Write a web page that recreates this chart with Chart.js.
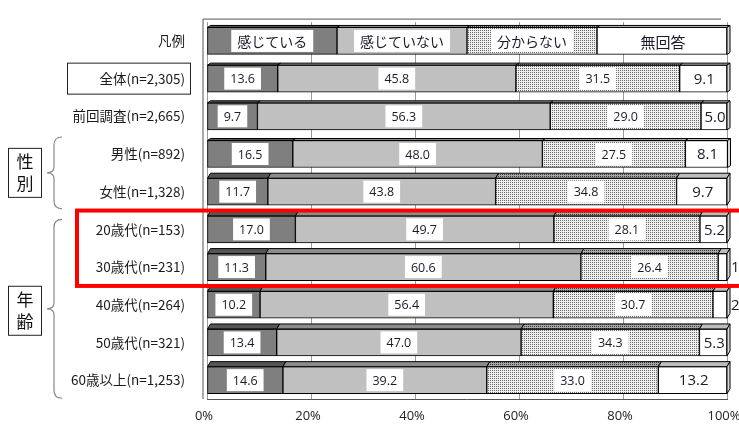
<!DOCTYPE html>
<html>
<head>
<meta charset="utf-8">
<script src="https://cdn.jsdelivr.net/npm/chart.js@4"></script>
<style>
  html, body { margin: 0; padding: 0; background: #fff; }
  #wrap { width: 739px; height: 428px; position: relative; }
</style>
</head>
<body>
<div id="wrap"><canvas id="chart" width="739" height="428"></canvas></div>
<script>
// 데이터
const categories = ['凡例', '全体(n=2,305)', '前回調査(n=2,665)', '男性(n=892)', '女性(n=1,328)',
  '20歳代(n=153)', '30歳代(n=231)', '40歳代(n=264)', '50歳代(n=321)', '60歳以上(n=1,253)'];
const seriesNames = ['感じている', '感じていない', '分からない', '無回答'];
const feel     = [25, 13.6,  9.7, 16.5, 11.7, 17.0, 11.3, 10.2, 13.4, 14.6];
const notFeel  = [25, 45.8, 56.3, 48.0, 43.8, 49.7, 60.6, 56.4, 47.0, 39.2];
const unknown  = [25, 31.5, 29.0, 27.5, 34.8, 28.1, 26.4, 30.7, 34.3, 33.0];
const noAnswer = [25,  9.1,  5.0,  8.1,  9.7,  5.2,  1.7,  2.7,  5.3, 13.2];
const xTicks = [0, 20, 40, 60, 80, 100];

const JP = '"Noto Sans CJK JP", "Noto Sans", sans-serif';
const NUM = '"Open Sans", "Liberation Sans", sans-serif';

// 점무늬 패턴
function dotPattern(bg, dot) {
  const c = document.createElement('canvas');
  c.width = 2; c.height = 2;
  const g = c.getContext('2d');
  g.fillStyle = bg; g.fillRect(0, 0, 2, 2);
  g.fillStyle = dot;
  g.fillRect(0, 0, 1, 1);
  return document.getElementById('chart').getContext('2d').createPattern(c, 'repeat');
}
const dots = dotPattern('#eeeeee', '#6a6a6a');
const dotsDark = dotPattern('#a8a8a8', '#3a3a3a');

const fronts = ['#7f7f7f', '#c0c0c0', dots, '#ffffff'];
const tops = ['#555555', '#8c8c8c', dotsDark, '#bdbdbd'];

// 3D 윗면/옆면
const depthPlugin = {
  id: 'depth',
  afterDatasetsDraw(chart) {
    const ctx = chart.ctx;
    ctx.save();
    ctx.strokeStyle = '#000';
    ctx.lineWidth = 1;
    chart.data.datasets.forEach((ds, i) => {
      chart.getDatasetMeta(i).data.forEach((bar, j) => {
        const p = bar.getProps(['x', 'y', 'base', 'height'], true);
        const l = Math.min(p.x, p.base), r = Math.max(p.x, p.base);
        const t = p.y - p.height / 2, b = p.y + p.height / 2;
        const dy = j < 4 ? 2 : 5, dx = 3;
        ctx.fillStyle = tops[i];
        ctx.beginPath();
        ctx.moveTo(l, t); ctx.lineTo(r, t); ctx.lineTo(r + dx, t - dy); ctx.lineTo(l + dx, t - dy);
        ctx.closePath(); ctx.fill(); ctx.stroke();
        if (i === 3) {
          ctx.fillStyle = '#d9d9d9';
          ctx.beginPath();
          ctx.moveTo(r, t); ctx.lineTo(r + dx, t - dy); ctx.lineTo(r + dx, b - dy); ctx.lineTo(r, b);
          ctx.closePath(); ctx.fill(); ctx.stroke();
        }
      });
    });
    ctx.restore();
  }
};

// 값 라벨
const labelPlugin = {
  id: 'valueLabels',
  afterDatasetsDraw(chart) {
    const ctx = chart.ctx;
    ctx.save();
    ctx.textBaseline = 'middle';
    chart.data.datasets.forEach((ds, i) => {
      chart.getDatasetMeta(i).data.forEach((bar, j) => {
        const p = bar.getProps(['x', 'y', 'base'], true);
        const l = Math.min(p.x, p.base), r = Math.max(p.x, p.base);
        const w = r - l;
        const legendRow = j === 0;
        const txt = legendRow ? seriesNames[i] : ds.data[j].toFixed(1);
        if (i === 3) {
          ctx.font = legendRow ? '15px ' + JP : '15px ' + NUM;
          ctx.fillStyle = '#1a1a2a';
          if (w < 18) {
            ctx.textAlign = 'left';
            ctx.fillText(txt, r + 4, p.y + 1);
          } else {
            ctx.textAlign = 'center';
            ctx.fillText(txt, (l + r) / 2 + 1, p.y + 1);
          }
          return;
        }
        ctx.font = legendRow ? '14px ' + JP : '12.5px ' + NUM;
        const tw = ctx.measureText(txt).width;
        const cx = (l + r) / 2;
        ctx.fillStyle = '#fff';
        ctx.fillRect(cx - tw / 2 - 6, p.y - 11, tw + 12, 22);
        ctx.fillStyle = '#1a1a2a';
        ctx.textAlign = 'center';
        ctx.fillText(txt, cx, p.y + 1);
      });
    });
    ctx.restore();
  }
};

// 왼쪽 주석 (박스, 괄호, 빨간 테두리)
const notePlugin = {
  id: 'notes',
  beforeDatasetsDraw(chart) {
    const ctx = chart.ctx, a = chart.chartArea;
    ctx.save();
    ctx.strokeStyle = '#555';
    ctx.lineWidth = 1;
    ctx.beginPath();
    ctx.moveTo(a.left - 4, a.top - 3); ctx.lineTo(a.right - 6, a.top - 3);
    ctx.moveTo(a.left - 4, a.top - 3); ctx.lineTo(a.left - 4, a.bottom);
    ctx.stroke();
    ctx.restore();
  },
  afterDraw(chart) {
    const ctx = chart.ctx;
    const ys = chart.scales.y;
    const cy = k => ys.getPixelForValue(k);
    ctx.save();
    // 全体 박스
    ctx.strokeStyle = '#222';
    ctx.lineWidth = 1;
    ctx.strokeRect(67.5, cy(1) - 15.5, 123, 31);

    function brace(top, bottom) {
      const mid = (top + bottom) / 2, x = 54;
      ctx.strokeStyle = '#888';
      ctx.lineWidth = 1.2;
      ctx.beginPath();
      ctx.moveTo(x + 8, top);
      ctx.quadraticCurveTo(x, top, x, top + 8);
      ctx.lineTo(x, mid - 6);
      ctx.quadraticCurveTo(x, mid, x - 7, mid);
      ctx.quadraticCurveTo(x, mid, x, mid + 6);
      ctx.lineTo(x, bottom - 8);
      ctx.quadraticCurveTo(x, bottom, x + 8, bottom);
      ctx.stroke();
    }
    function vbox(mid, chars) {
      ctx.strokeStyle = '#222';
      ctx.lineWidth = 1;
      ctx.strokeRect(8.5, mid - 24.5, 33, 49);
      ctx.fillStyle = '#111';
      ctx.font = '17px ' + JP;
      ctx.textAlign = 'center';
      ctx.textBaseline = 'middle';
      ctx.fillText(chars[0], 25, mid - 11);
      ctx.fillText(chars[1], 25, mid + 11);
    }
    const t1 = cy(3) - 17, b1 = cy(4) + 17;
    brace(t1, b1);
    vbox((t1 + b1) / 2, ['性', '別']);
    const t2 = cy(5) - 10, b2 = cy(9) + 18;
    brace(t2, b2);
    vbox((t2 + b2) / 2 + 2, ['年', '齢']);

    // 빨간 테두리
    ctx.strokeStyle = '#ff0000';
    ctx.lineWidth = 4;
    const rt = (cy(4) + cy(5)) / 2, rb = (cy(6) + cy(7)) / 2;
    ctx.strokeRect(77, rt, 700, rb - rt);
    ctx.restore();
  }
};

const ctx = document.getElementById('chart').getContext('2d');
const chart = new Chart(ctx, {
  type: 'bar',
  data: {
    labels: categories,
    datasets: [feel, notFeel, unknown, noAnswer].map((d, i) => ({
      label: seriesNames[i],
      data: d,
      backgroundColor: fronts[i],
      borderColor: '#000',
      borderWidth: 1,
      borderSkipped: false,
      barThickness: 27
    }))
  },
  options: {
    indexAxis: 'y',
    responsive: false,
    animation: false,
    layout: { padding: { top: 13, right: 12, bottom: 1, left: 0 } },
    scales: {
      x: {
        stacked: true,
        min: 0, max: 100,
        afterBuildTicks: s => { s.ticks = xTicks.map(v => ({ value: v })); },
        afterFit: s => { s.height = 28; s.paddingLeft = 0; s.paddingRight = 0; },
        ticks: {
          callback: v => v + '%',
          color: '#222',
          font: { family: NUM, size: 13 },
          padding: 9,
          labelOffset: -3
        },
        grid: { color: '#9a9a9a', drawTicks: false },
        border: { color: '#555' }
      },
      y: {
        stacked: true,
        afterFit: s => { s.width = 207; },
        ticks: {
          color: '#1a1a1a',
          font: { family: JP, size: 13.5 },
          padding: 14
        },
        grid: { display: false },
        border: { display: false }
      }
    },
    plugins: {
      legend: { display: false },
      tooltip: { enabled: false }
    }
  },
  plugins: [notePlugin, depthPlugin, labelPlugin]
});
</script>
</body>
</html>
